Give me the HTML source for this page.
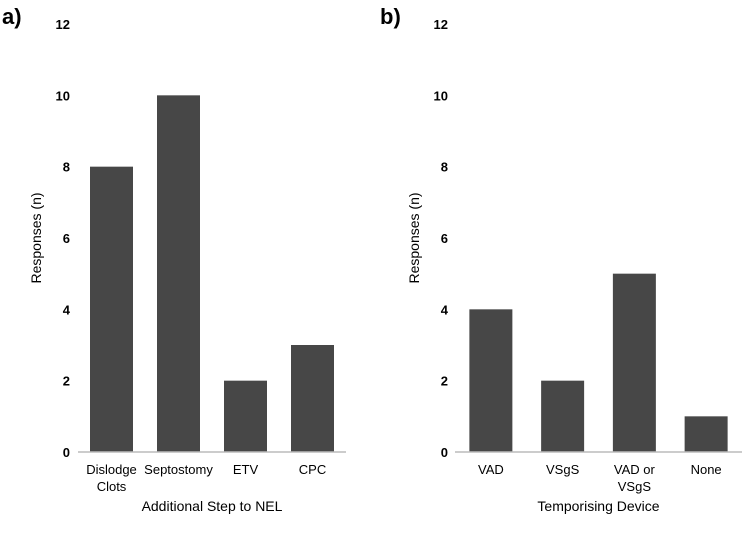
<!DOCTYPE html>
<html><head><meta charset="utf-8"><style>
body{margin:0;background:#fff;font-family:"Liberation Sans",sans-serif}
svg text{font-family:"Liberation Sans",sans-serif;fill:#000}
</style></head><body>
<svg id="c" width="749" height="529"></svg>
<script>
const catsA=[["Dislodge","Clots"],["Septostomy"],["ETV"],["CPC"]];
const valsA=[8,10,2,3];
const catsB=[["VAD"],["VSgS"],["VAD or","VSgS"],["None"]];
const valsB=[4,2,5,1];
const ticks=[0,2,4,6,8,10,12];
const NS="http://www.w3.org/2000/svg";
const svg=document.getElementById('c');
function mk(t,a,p){const e=document.createElementNS(NS,t);for(const k in a)e.setAttribute(k,a[k]);(p||svg).appendChild(e);return e;}
function panel(x0,x1,labX,cats,vals,title,letter,name){
  const g=mk('g',{});
  
  
  const y=v=>452-v*(428/12);
  const step=(x1-x0)/cats.length, bw=43;
  ticks.forEach(t=>{const tx=mk('text',{x:labX,y:y(t)+5,'text-anchor':'end','font-size':13,'font-weight':'bold'},g);tx.textContent=t;
    });
  vals.forEach((v,i)=>{const cx=x0+step*(i+0.5);
    const r=mk('rect',{x:cx-bw/2,y:y(v),width:bw,height:y(0)-y(v),fill:'#474747'},g);
    
    cats[i].forEach((l,j)=>{const tx=mk('text',{x:cx,y:474+j*17,'text-anchor':'middle','font-size':13},g);tx.textContent=l;
      });
  });
  const ax=mk('line',{x1:x0,x2:x1,y1:452,y2:452,stroke:'#bbb','stroke-width':1.5},g);
  
  const tt=mk('text',{x:(x0+x1)/2,y:511,'text-anchor':'middle','font-size':14},g);tt.textContent=title;
  
  const yt=mk('text',{x:0,y:0,'text-anchor':'middle','font-size':14,transform:`translate(${labX-29},238) rotate(-90)`},g);yt.textContent='Responses (n)';
  
  const lt=mk('text',{x:labX-68,y:24,'font-size':22,'font-weight':'bold'},g);lt.textContent=letter;
  
}
panel(78,346,70,catsA,valsA,'Additional Step to NEL','a)','panel-a');
panel(455,742,448,catsB,valsB,'Temporising Device','b)','panel-b');
</script>
</body></html>
